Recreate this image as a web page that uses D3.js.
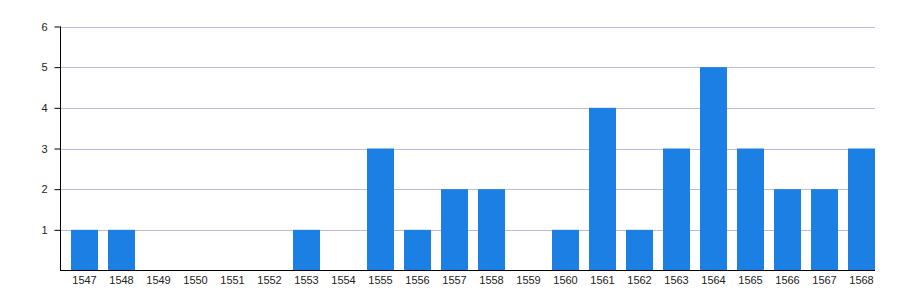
<!DOCTYPE html>
<meta charset="utf-8">
<style>
body { margin: 0; background: #fff; }
svg text { font-family: "Liberation Sans", Arial, sans-serif; font-size: 11px; fill: #222; }
</style>
<script src="https://cdn.jsdelivr.net/npm/d3@7"></script>
<body>
<script>
var years = ["1547","1548","1549","1550","1551","1552","1553","1554","1555","1556","1557",
             "1558","1559","1560","1561","1562","1563","1564","1565","1566","1567","1568"];
var counts = [1, 1, 0, 0, 0, 0, 1, 0, 3, 1, 2, 2, 0, 1, 4, 1, 3, 5, 3, 2, 2, 3];
var yTicks = [1, 2, 3, 4, 5, 6];

var width = 900, height = 300;
var plotLeft = 60, plotRight = 875, plotTop = 26.5, plotBottom = 270.5;

var svg = d3.select("body").append("svg")
  .attr("width", width)
  .attr("height", height);

var x = d3.scaleBand()
  .domain(years)
  .range([plotLeft + 11, plotRight])
  .paddingInner(0.27)
  .paddingOuter(0);

var y = d3.scaleLinear()
  .domain([0, 6])
  .range([plotBottom, plotTop]);

// grid lines
svg.append("g").selectAll("line")
  .data(yTicks)
  .enter().append("line")
  .attr("x1", plotLeft).attr("x2", plotRight)
  .attr("y1", function(d) { return Math.round(y(d)) + 0.5; })
  .attr("y2", function(d) { return Math.round(y(d)) + 0.5; })
  .attr("stroke", "#bdb8dc")
  .attr("stroke-width", 1);

// bars
svg.append("g").selectAll("rect")
  .data(counts)
  .enter().append("rect")
  .attr("x", function(d, i) { return x(years[i]); })
  .attr("width", x.bandwidth())
  .attr("y", function(d) { return y(d); })
  .attr("height", function(d) { return y(0) - y(d); })
  .attr("fill", "#1c7fe3");

// y axis
var yAxis = svg.append("g")
  .attr("transform", "translate(" + (plotLeft + 0.5) + ",0)")
  .call(d3.axisLeft(y).tickValues(yTicks).tickSize(6).tickPadding(7).tickFormat(d3.format("d")));
yAxis.select(".domain").attr("d", "M0," + plotTop + "V" + plotBottom).attr("stroke", "#000");
yAxis.selectAll(".tick line").attr("stroke", "#000");
yAxis.selectAll("text").attr("font-size", 11).attr("font-family", null).attr("fill", "#222");

// x axis
var xAxis = svg.append("g")
  .attr("transform", "translate(0," + plotBottom + ")")
  .call(d3.axisBottom(x).tickSize(0).tickPadding(6));
xAxis.select(".domain").attr("d", "M" + plotLeft + ",0H" + plotRight).attr("stroke", "#000");
xAxis.selectAll("text").attr("font-size", 11).attr("font-family", null).attr("fill", "#222");
</script>
</body>
